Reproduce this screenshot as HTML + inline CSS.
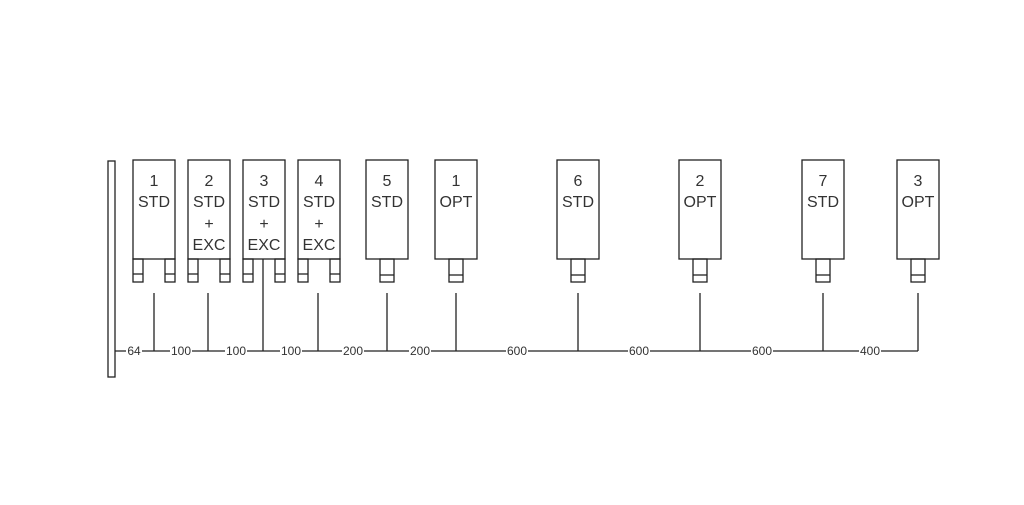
<!DOCTYPE html><html><head><style>body{margin:0;background:#fff}</style></head><body>
<svg width="1024" height="500" xmlns="http://www.w3.org/2000/svg" font-family="Liberation Sans, sans-serif" fill="none" stroke="#222" stroke-width="1.3">
<rect x="108" y="161" width="7" height="216"/>
<line x1="115" y1="351" x2="918" y2="351"/>
<g id="v">
<line x1="154" y1="293" x2="154" y2="351"/><line x1="208" y1="293" x2="208" y2="351"/>
<line x1="263" y1="259" x2="263" y2="351"/><line x1="318" y1="293" x2="318" y2="351"/>
<line x1="387" y1="293" x2="387" y2="351"/><line x1="456" y1="293" x2="456" y2="351"/>
<line x1="578" y1="293" x2="578" y2="351"/><line x1="700" y1="293" x2="700" y2="351"/>
<line x1="823" y1="293" x2="823" y2="351"/><line x1="918" y1="293" x2="918" y2="351"/>
</g>
<!-- double-leg boxes -->
<g>
<rect x="133" y="160" width="42" height="99"/><rect x="133" y="259" width="10" height="23"/><rect x="165" y="259" width="10" height="23"/><line x1="133" y1="274" x2="143" y2="274"/><line x1="165" y1="274" x2="175" y2="274"/>
<rect x="188" y="160" width="42" height="99"/><rect x="188" y="259" width="10" height="23"/><rect x="220" y="259" width="10" height="23"/><line x1="188" y1="274" x2="198" y2="274"/><line x1="220" y1="274" x2="230" y2="274"/>
<rect x="243" y="160" width="42" height="99"/><rect x="243" y="259" width="10" height="23"/><rect x="275" y="259" width="10" height="23"/><line x1="243" y1="274" x2="253" y2="274"/><line x1="275" y1="274" x2="285" y2="274"/>
<rect x="298" y="160" width="42" height="99"/><rect x="298" y="259" width="10" height="23"/><rect x="330" y="259" width="10" height="23"/><line x1="298" y1="274" x2="308" y2="274"/><line x1="330" y1="274" x2="340" y2="274"/>
</g>
<!-- single-leg boxes -->
<g>
<rect x="366" y="160" width="42" height="99"/><rect x="380" y="259" width="14" height="23"/><line x1="380" y1="275" x2="394" y2="275"/>
<rect x="435" y="160" width="42" height="99"/><rect x="449" y="259" width="14" height="23"/><line x1="449" y1="275" x2="463" y2="275"/>
<rect x="557" y="160" width="42" height="99"/><rect x="571" y="259" width="14" height="23"/><line x1="571" y1="275" x2="585" y2="275"/>
<rect x="679" y="160" width="42" height="99"/><rect x="693" y="259" width="14" height="23"/><line x1="693" y1="275" x2="707" y2="275"/>
<rect x="802" y="160" width="42" height="99"/><rect x="816" y="259" width="14" height="23"/><line x1="816" y1="275" x2="830" y2="275"/>
<rect x="897" y="160" width="42" height="99"/><rect x="911" y="259" width="14" height="23"/><line x1="911" y1="275" x2="925" y2="275"/>
</g>
<g fill="#333" stroke="none" font-size="16" text-anchor="middle">
<text x="154" y="186">1</text><text x="154" y="207">STD</text>
<text x="209" y="186">2</text><text x="209" y="207">STD</text><text x="209" y="229">+</text><text x="209" y="250">EXC</text>
<text x="264" y="186">3</text><text x="264" y="207">STD</text><text x="264" y="229">+</text><text x="264" y="250">EXC</text>
<text x="319" y="186">4</text><text x="319" y="207">STD</text><text x="319" y="229">+</text><text x="319" y="250">EXC</text>
<text x="387" y="186">5</text><text x="387" y="207">STD</text>
<text x="456" y="186">1</text><text x="456" y="207">OPT</text>
<text x="578" y="186">6</text><text x="578" y="207">STD</text>
<text x="700" y="186">2</text><text x="700" y="207">OPT</text>
<text x="823" y="186">7</text><text x="823" y="207">STD</text>
<text x="918" y="186">3</text><text x="918" y="207">OPT</text>
</g>
<g fill="#333" stroke="none" font-size="12" text-anchor="middle">
<g fill="#fff"><rect x="126" y="345" width="16" height="11"/><rect x="170" y="345" width="22" height="11"/><rect x="225" y="345" width="22" height="11"/><rect x="280" y="345" width="22" height="11"/><rect x="342" y="345" width="22" height="11"/><rect x="409" y="345" width="22" height="11"/><rect x="506" y="345" width="22" height="11"/><rect x="628" y="345" width="22" height="11"/><rect x="751" y="345" width="22" height="11"/><rect x="859" y="345" width="22" height="11"/></g>
<text x="134" y="355">64</text><text x="181" y="355">100</text><text x="236" y="355">100</text><text x="291" y="355">100</text>
<text x="353" y="355">200</text><text x="420" y="355">200</text><text x="517" y="355">600</text><text x="639" y="355">600</text>
<text x="762" y="355">600</text><text x="870" y="355">400</text>
</g>
</svg></body></html>
